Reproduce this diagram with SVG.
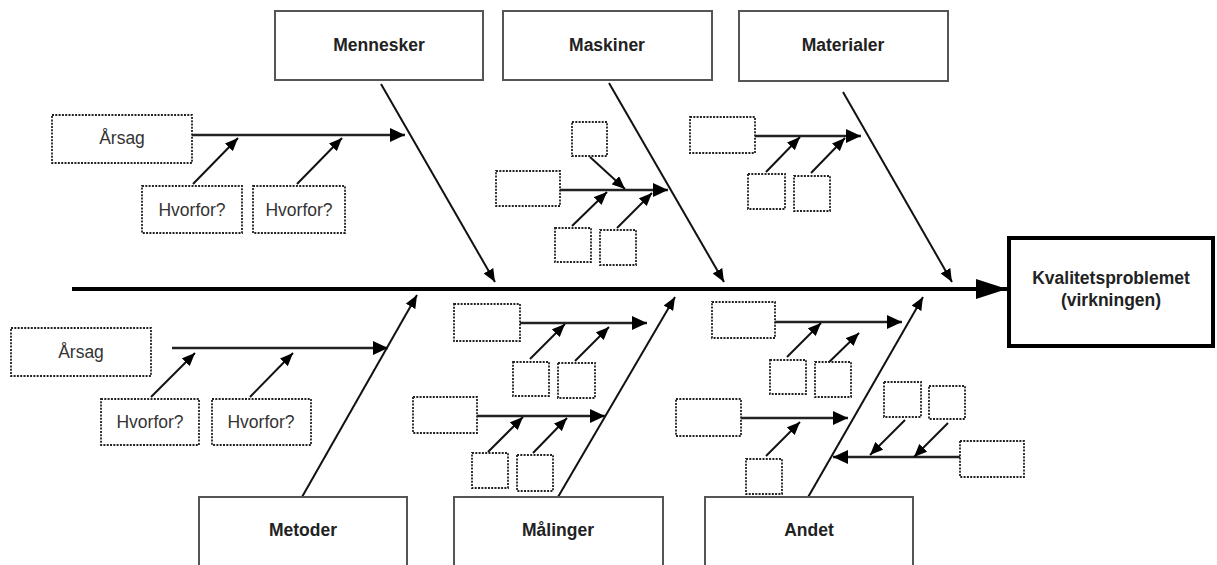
<svg xmlns="http://www.w3.org/2000/svg" width="1217" height="565" viewBox="0 0 1217 565">
  <style>
    .cat { fill: #fff; stroke: #555; stroke-width: 2; }
    .effect { fill: #fff; stroke: #000; stroke-width: 4; }
    .sub { fill: #fff; stroke: #222; stroke-width: 1.8; stroke-dasharray: 2 1.3; }
    .lbl { font-family: "Liberation Sans", Arial, sans-serif; font-size: 17.5px; font-weight: bold; fill: #222; text-anchor: middle; }
    .txt { font-family: "Liberation Sans", Arial, sans-serif; font-size: 17.5px; fill: #333; text-anchor: middle; }
    .spine { stroke: #000; stroke-width: 4; fill: none; }
    .bone { stroke: #111; stroke-width: 2; fill: none; marker-end: url(#ah); }
    .rib { stroke: #222; stroke-width: 2.5; fill: none; marker-end: url(#ahBig); }
    .why { stroke: #111; stroke-width: 2; fill: none; marker-end: url(#ah); }
  </style>
  <defs>
    <marker id="ah" markerUnits="userSpaceOnUse" markerWidth="13" markerHeight="11" refX="13" refY="5.5" orient="auto">
      <path d="M0,0 L13,5.5 L0,11 z" fill="#000"/>
    </marker>
    <marker id="ahBig" markerUnits="userSpaceOnUse" markerWidth="15" markerHeight="14" refX="15" refY="7" orient="auto">
      <path d="M0,0 L15,7 L0,14 z" fill="#000"/>
    </marker>
    <marker id="ahSpine" markerUnits="userSpaceOnUse" markerWidth="31" markerHeight="20" refX="31" refY="10" orient="auto">
      <path d="M0,0 L31,10 L0,20 z" fill="#000"/>
    </marker>
  </defs>

  <rect width="1217" height="565" fill="#fff"/>

  <!-- connectors -->
  <g id="connectors">
    <line class="spine" x1="72" y1="289" x2="1007" y2="289" marker-end="url(#ahSpine)"/>

    <!-- main bones -->
    <line class="bone" x1="381" y1="84" x2="495" y2="282"/>
    <line class="bone" x1="609" y1="83" x2="724" y2="282"/>
    <line class="bone" x1="843" y1="92" x2="952" y2="282"/>
    <line class="bone" x1="302" y1="497" x2="417" y2="295"/>
    <line class="bone" x1="558" y1="497" x2="675" y2="297"/>
    <line class="bone" x1="807" y1="499" x2="923" y2="297"/>

    <!-- Mennesker causes -->
    <line class="rib" x1="192" y1="135" x2="405" y2="135"/>
    <line class="why" x1="193" y1="184" x2="238" y2="138"/>
    <line class="why" x1="297" y1="184" x2="342" y2="138"/>

    <!-- Maskiner causes -->
    <line class="rib" x1="560" y1="190" x2="668" y2="190"/>
    <line class="why" x1="590" y1="157" x2="625" y2="189"/>
    <line class="why" x1="572" y1="226" x2="607" y2="192"/>
    <line class="why" x1="617" y1="228" x2="652" y2="193"/>

    <!-- Materialer causes -->
    <line class="rib" x1="755" y1="136" x2="861" y2="136"/>
    <line class="why" x1="766" y1="172" x2="800" y2="137"/>
    <line class="why" x1="811" y1="173" x2="845" y2="138"/>

    <!-- Metoder causes -->
    <line class="rib" x1="172" y1="348" x2="388" y2="348"/>
    <line class="why" x1="151" y1="397" x2="195" y2="353"/>
    <line class="why" x1="250" y1="397" x2="293" y2="353"/>

    <!-- Målinger causes -->
    <line class="rib" x1="520" y1="323" x2="647" y2="323"/>
    <line class="why" x1="530" y1="359" x2="565" y2="324"/>
    <line class="why" x1="575" y1="361" x2="609" y2="327"/>
    <line class="rib" x1="477" y1="416" x2="605" y2="416"/>
    <line class="why" x1="488" y1="452" x2="523" y2="417"/>
    <line class="why" x1="533" y1="453" x2="567" y2="418"/>

    <!-- Andet causes -->
    <line class="rib" x1="775" y1="322" x2="902" y2="322"/>
    <line class="why" x1="787" y1="357" x2="821" y2="323"/>
    <line class="why" x1="824" y1="367" x2="859" y2="333"/>
    <line class="rib" x1="741" y1="418" x2="848" y2="418"/>
    <line class="why" x1="766" y1="456" x2="800" y2="422"/>
    <line class="rib" x1="960" y1="457" x2="833" y2="457"/>
    <line class="why" x1="905" y1="420" x2="870" y2="455"/>
    <line class="why" x1="948" y1="423" x2="914" y2="457"/>
  </g>

  <!-- category boxes -->
  <g id="mennesker">
    <rect class="cat" x="275" y="11" width="208" height="69"/>
    <text class="lbl" x="379" y="51">Mennesker</text>
  </g>
  <g id="maskiner">
    <rect class="cat" x="503" y="11" width="209" height="69"/>
    <text class="lbl" x="607" y="51">Maskiner</text>
  </g>
  <g id="materialer">
    <rect class="cat" x="739" y="11" width="209" height="70"/>
    <text class="lbl" x="843" y="51">Materialer</text>
  </g>
  <g id="metoder">
    <rect class="cat" x="199" y="497" width="208" height="90"/>
    <text class="lbl" x="303" y="536">Metoder</text>
  </g>
  <g id="malinger">
    <rect class="cat" x="454" y="497" width="209" height="90"/>
    <text class="lbl" x="558" y="536">Målinger</text>
  </g>
  <g id="andet">
    <rect class="cat" x="705" y="497" width="208" height="90"/>
    <text class="lbl" x="809" y="536">Andet</text>
  </g>

  <!-- effect -->
  <g id="effect">
    <rect class="effect" x="1009" y="238" width="204" height="108"/>
    <text class="lbl" x="1111" y="284">Kvalitetsproblemet</text>
    <text class="lbl" x="1111" y="306">(virkningen)</text>
  </g>

  <!-- cause boxes, upper half -->
  <g id="cause-top-left">
    <rect class="sub" x="52" y="115" width="140" height="48"/>
    <text class="txt" x="122" y="144">Årsag</text>
  </g>
  <g id="why-top-1">
    <rect class="sub" x="142" y="186" width="100" height="47"/>
    <text class="txt" x="192" y="216">Hvorfor?</text>
  </g>
  <g id="why-top-2">
    <rect class="sub" x="253" y="186" width="92" height="47"/>
    <text class="txt" x="299" y="216">Hvorfor?</text>
  </g>
  <g id="maskiner-causes">
    <rect class="sub" x="496" y="171" width="64" height="35"/>
    <rect class="sub" x="572" y="122" width="35" height="34"/>
    <rect class="sub" x="555" y="228" width="36" height="34"/>
    <rect class="sub" x="600" y="230" width="36" height="35"/>
  </g>
  <g id="materialer-causes">
    <rect class="sub" x="690" y="117" width="65" height="36"/>
    <rect class="sub" x="748" y="174" width="37" height="35"/>
    <rect class="sub" x="794" y="176" width="36" height="35"/>
  </g>

  <!-- cause boxes, lower half -->
  <g id="cause-bottom-left">
    <rect class="sub" x="11" y="328" width="140" height="48"/>
    <text class="txt" x="81" y="358">Årsag</text>
  </g>
  <g id="why-bottom-1">
    <rect class="sub" x="101" y="399" width="98" height="46"/>
    <text class="txt" x="150" y="428">Hvorfor?</text>
  </g>
  <g id="why-bottom-2">
    <rect class="sub" x="212" y="399" width="99" height="46"/>
    <text class="txt" x="261" y="428">Hvorfor?</text>
  </g>
  <g id="malinger-causes">
    <rect class="sub" x="454" y="304" width="66" height="37"/>
    <rect class="sub" x="513" y="362" width="36" height="34"/>
    <rect class="sub" x="558" y="363" width="37" height="35"/>
    <rect class="sub" x="413" y="397" width="64" height="36"/>
    <rect class="sub" x="472" y="453" width="36" height="35"/>
    <rect class="sub" x="517" y="455" width="36" height="36"/>
  </g>
  <g id="andet-causes">
    <rect class="sub" x="712" y="302" width="63" height="36"/>
    <rect class="sub" x="770" y="360" width="36" height="34"/>
    <rect class="sub" x="815" y="362" width="36" height="35"/>
    <rect class="sub" x="676" y="399" width="65" height="37"/>
    <rect class="sub" x="746" y="459" width="36" height="35"/>
    <rect class="sub" x="884" y="382" width="37" height="35"/>
    <rect class="sub" x="929" y="386" width="36" height="33"/>
    <rect class="sub" x="960" y="441" width="64" height="36"/>
  </g>
</svg>
